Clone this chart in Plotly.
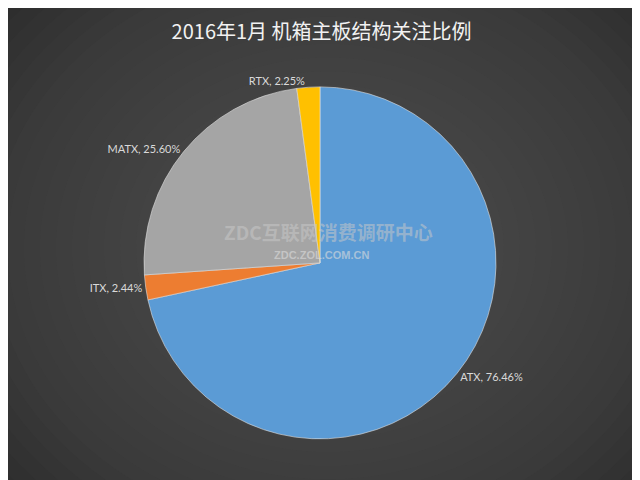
import plotly.graph_objects as go

labels = ["ATX", "ITX", "MATX", "RTX"]
values = [76.46, 2.44, 25.60, 2.25]
colors = ["#5b9bd5", "#ed7d31", "#a5a5a5", "#ffc000"]
texts = [f"{l}, {v:.2f}%" for l, v in zip(labels, values)]

fig = go.Figure()
fig.add_trace(go.Pie(
    labels=labels, values=values, sort=False, direction="clockwise", rotation=0,
    text=texts, textinfo="text", textposition="outside",
    textfont=dict(color="#d9d9d9", size=11, family="Lato"),
    marker=dict(colors=colors, line=dict(color="#e0e0e0", width=0.6)),
    domain=dict(x=[0.2125, 0.7625], y=[0.102, 0.836]),
    hoverinfo="skip", showlegend=False, automargin=False,
))
shapes = []
n = 30
for i in range(n):
    f = i / n
    shapes.append(dict(type="circle", xref="paper", yref="paper", layer="below",
                       x0=0.5 - (1 - f) * 0.75, x1=0.5 + (1 - f) * 0.75,
                       y0=0.5 - (1 - f) * 0.85, y1=0.5 + (1 - f) * 0.85,
                       line=dict(width=0), fillcolor="rgba(110,110,110,0.035)"))
fig.update_layout(
    width=640, height=480, margin=dict(l=0, r=0, t=0, b=0),
    paper_bgcolor="#262626", plot_bgcolor="#262626", shapes=shapes,
    title=dict(text="2016年1月 机箱主板结构关注比例", x=0.49, y=0.965, xanchor="center",
               font=dict(size=20, color="#f2f2f2", family="Noto Sans CJK SC")),
    annotations=[
        dict(text="<b>ZDC互联网消费调研中心</b>", x=0.5, y=0.535, xref="paper", yref="paper",
             showarrow=False, font=dict(size=19, color="rgba(200,200,200,0.55)", family="Noto Sans CJK SC")),
        dict(text="<b>ZDC.ZOL.COM.CN</b>", x=0.49, y=0.485, xref="paper", yref="paper",
             showarrow=False, font=dict(size=11, color="rgba(220,220,220,0.6)", family="Liberation Sans")),
    ],
)
fig.write_html("out.html")
